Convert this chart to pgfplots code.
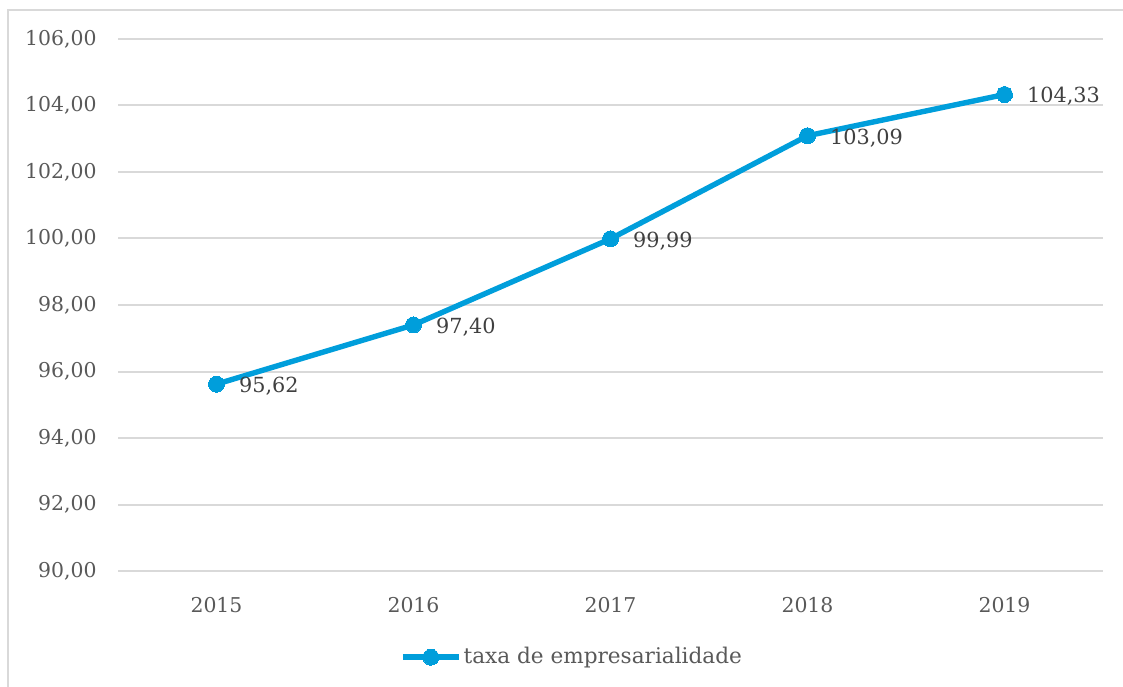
\documentclass[border=0pt]{standalone}
\usepackage{fontspec}
\setmainfont{DejaVu Serif}
\usepackage{pgfplots}
\pgfplotsset{compat=1.18}
\definecolor{serie}{RGB}{0,158,219}
\definecolor{grade}{RGB}{217,217,217}
\definecolor{rotulo}{RGB}{89,89,89}
\definecolor{valor}{RGB}{64,64,64}

\begin{document}
\begin{tikzpicture}
\useasboundingbox (0,0) rectangle (561.5pt,343pt);
\draw[grade, line width=1pt] (4pt,-5pt) -- (4pt,338pt) -- (575pt,338pt);
\begin{axis}[
    at={(59pt,57.5pt)}, anchor=south west,
    scale only axis,
    width=492.5pt, height=266pt,
    xmin=-0.5, xmax=4.5,
    ymin=90, ymax=106,
    ytick={90,92,...,106},
    xtick=data,
    xticklabels={2015,2016,2017,2018,2019},
    axis line style={draw=none},
    major tick length=0pt,
    ymajorgrids,
    grid style={grade, line width=1pt},
    font=\fontsize{10.2pt}{12pt}\selectfont,
    tick label style={text=rotulo, inner sep=0pt},
    yticklabel style={anchor=east, xshift=-10.5pt},
    xticklabel style={anchor=north, yshift=-13pt},
    /pgf/number format/.cd, fixed, fixed zerofill, precision=2, use comma, assume math mode=true,
    /pgfplots/.cd,
    nodes near coords,
    nodes near coords style={anchor=west, xshift=8pt, yshift=-1pt, text=valor, font=\fontsize{10.4pt}{12pt}\selectfont},
    legend style={at={(0.461,-0.162)}, anchor=center, draw=none, fill=none,
        text=rotulo, font=\fontsize{10.8pt}{12pt}\selectfont, inner sep=0pt,
        nodes={inner sep=1pt}},
    legend image code/.code={
        \draw[#1, mark repeat=2, mark phase=2] plot coordinates {(0pt,0pt) (14pt,0pt) (28pt,0pt)};
    },
]
\addplot[serie, line width=2.7pt, mark=*, mark size=4pt, mark options={solid, line width=0pt}]
    coordinates {(0,95.62) (1,97.40) (2,99.99) (3,103.09) (4,104.33)};
\legend{taxa de empresarialidade}
\end{axis}
\end{tikzpicture}
\end{document}
